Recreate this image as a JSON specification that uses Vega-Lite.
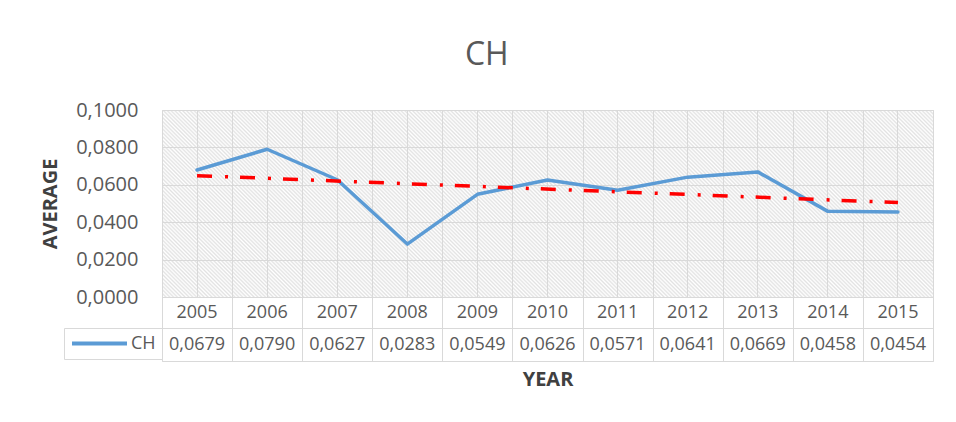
{
  "$schema": "https://vega.github.io/schema/vega-lite/v6.json",
  "padding": {"left": 40, "top": 38, "right": 0, "bottom": 0},
  "datasets": {
    "ch": [
      {"year": 2005, "value": 0.0679},
      {"year": 2006, "value": 0.0790},
      {"year": 2007, "value": 0.0627},
      {"year": 2008, "value": 0.0283},
      {"year": 2009, "value": 0.0549},
      {"year": 2010, "value": 0.0626},
      {"year": 2011, "value": 0.0571},
      {"year": 2012, "value": 0.0641},
      {"year": 2013, "value": 0.0669},
      {"year": 2014, "value": 0.0458},
      {"year": 2015, "value": 0.0454}
    ],
    "trend": [
      {"year": 2005, "trend": 0.0649},
      {"year": 2015, "trend": 0.0505}
    ]
  },
  "title": {"text": "CH", "fontSize": 32, "fontWeight": "normal", "color": "#595959", "font": "Open Sans", "anchor": "middle", "offset": 28},
  "spacing": 0,
  "bounds": "flush",
  "resolve": {"scale": {"color": "independent"}, "legend": {"color": "independent"}},
  "vconcat": [
    {
      "width": 771,
      "height": 187,
      "view": {
        "stroke": "#d9d9d9",
        "fill": {"gradient": "linear", "x1": 0, "y1": 1, "x2": 1.1735, "y2": 0.7154, "stops": [
{"offset":0.000,"color":"#e2e2e2"},{"offset":0.002,"color":"#fff"},{"offset":0.004,"color":"#e2e2e2"},{"offset":0.006,"color":"#fff"},{"offset":0.008,"color":"#e2e2e2"},{"offset":0.010,"color":"#fff"},{"offset":0.012,"color":"#e2e2e2"},{"offset":0.014,"color":"#fff"},{"offset":0.016,"color":"#e2e2e2"},{"offset":0.018,"color":"#fff"},
{"offset":0.020,"color":"#e2e2e2"},{"offset":0.022,"color":"#fff"},{"offset":0.024,"color":"#e2e2e2"},{"offset":0.026,"color":"#fff"},{"offset":0.028,"color":"#e2e2e2"},{"offset":0.030,"color":"#fff"},{"offset":0.032,"color":"#e2e2e2"},{"offset":0.034,"color":"#fff"},{"offset":0.036,"color":"#e2e2e2"},{"offset":0.038,"color":"#fff"},
{"offset":0.040,"color":"#e2e2e2"},{"offset":0.042,"color":"#fff"},{"offset":0.044,"color":"#e2e2e2"},{"offset":0.046,"color":"#fff"},{"offset":0.048,"color":"#e2e2e2"},{"offset":0.050,"color":"#fff"},{"offset":0.052,"color":"#e2e2e2"},{"offset":0.054,"color":"#fff"},{"offset":0.056,"color":"#e2e2e2"},{"offset":0.058,"color":"#fff"},
{"offset":0.060,"color":"#e2e2e2"},{"offset":0.062,"color":"#fff"},{"offset":0.064,"color":"#e2e2e2"},{"offset":0.066,"color":"#fff"},{"offset":0.068,"color":"#e2e2e2"},{"offset":0.070,"color":"#fff"},{"offset":0.072,"color":"#e2e2e2"},{"offset":0.074,"color":"#fff"},{"offset":0.076,"color":"#e2e2e2"},{"offset":0.078,"color":"#fff"},
{"offset":0.080,"color":"#e2e2e2"},{"offset":0.082,"color":"#fff"},{"offset":0.084,"color":"#e2e2e2"},{"offset":0.086,"color":"#fff"},{"offset":0.088,"color":"#e2e2e2"},{"offset":0.090,"color":"#fff"},{"offset":0.092,"color":"#e2e2e2"},{"offset":0.094,"color":"#fff"},{"offset":0.096,"color":"#e2e2e2"},{"offset":0.098,"color":"#fff"},
{"offset":0.100,"color":"#e2e2e2"},{"offset":0.102,"color":"#fff"},{"offset":0.104,"color":"#e2e2e2"},{"offset":0.106,"color":"#fff"},{"offset":0.108,"color":"#e2e2e2"},{"offset":0.110,"color":"#fff"},{"offset":0.112,"color":"#e2e2e2"},{"offset":0.114,"color":"#fff"},{"offset":0.116,"color":"#e2e2e2"},{"offset":0.118,"color":"#fff"},
{"offset":0.120,"color":"#e2e2e2"},{"offset":0.122,"color":"#fff"},{"offset":0.124,"color":"#e2e2e2"},{"offset":0.126,"color":"#fff"},{"offset":0.128,"color":"#e2e2e2"},{"offset":0.130,"color":"#fff"},{"offset":0.132,"color":"#e2e2e2"},{"offset":0.134,"color":"#fff"},{"offset":0.136,"color":"#e2e2e2"},{"offset":0.138,"color":"#fff"},
{"offset":0.140,"color":"#e2e2e2"},{"offset":0.142,"color":"#fff"},{"offset":0.144,"color":"#e2e2e2"},{"offset":0.146,"color":"#fff"},{"offset":0.148,"color":"#e2e2e2"},{"offset":0.150,"color":"#fff"},{"offset":0.152,"color":"#e2e2e2"},{"offset":0.154,"color":"#fff"},{"offset":0.156,"color":"#e2e2e2"},{"offset":0.158,"color":"#fff"},
{"offset":0.160,"color":"#e2e2e2"},{"offset":0.162,"color":"#fff"},{"offset":0.164,"color":"#e2e2e2"},{"offset":0.166,"color":"#fff"},{"offset":0.168,"color":"#e2e2e2"},{"offset":0.170,"color":"#fff"},{"offset":0.172,"color":"#e2e2e2"},{"offset":0.174,"color":"#fff"},{"offset":0.176,"color":"#e2e2e2"},{"offset":0.178,"color":"#fff"},
{"offset":0.180,"color":"#e2e2e2"},{"offset":0.182,"color":"#fff"},{"offset":0.184,"color":"#e2e2e2"},{"offset":0.186,"color":"#fff"},{"offset":0.188,"color":"#e2e2e2"},{"offset":0.190,"color":"#fff"},{"offset":0.192,"color":"#e2e2e2"},{"offset":0.194,"color":"#fff"},{"offset":0.196,"color":"#e2e2e2"},{"offset":0.198,"color":"#fff"},
{"offset":0.200,"color":"#e2e2e2"},{"offset":0.202,"color":"#fff"},{"offset":0.204,"color":"#e2e2e2"},{"offset":0.206,"color":"#fff"},{"offset":0.208,"color":"#e2e2e2"},{"offset":0.210,"color":"#fff"},{"offset":0.212,"color":"#e2e2e2"},{"offset":0.214,"color":"#fff"},{"offset":0.216,"color":"#e2e2e2"},{"offset":0.218,"color":"#fff"},
{"offset":0.220,"color":"#e2e2e2"},{"offset":0.222,"color":"#fff"},{"offset":0.224,"color":"#e2e2e2"},{"offset":0.226,"color":"#fff"},{"offset":0.228,"color":"#e2e2e2"},{"offset":0.230,"color":"#fff"},{"offset":0.232,"color":"#e2e2e2"},{"offset":0.234,"color":"#fff"},{"offset":0.236,"color":"#e2e2e2"},{"offset":0.238,"color":"#fff"},
{"offset":0.240,"color":"#e2e2e2"},{"offset":0.242,"color":"#fff"},{"offset":0.244,"color":"#e2e2e2"},{"offset":0.246,"color":"#fff"},{"offset":0.248,"color":"#e2e2e2"},{"offset":0.250,"color":"#fff"},{"offset":0.252,"color":"#e2e2e2"},{"offset":0.254,"color":"#fff"},{"offset":0.256,"color":"#e2e2e2"},{"offset":0.258,"color":"#fff"},
{"offset":0.260,"color":"#e2e2e2"},{"offset":0.262,"color":"#fff"},{"offset":0.264,"color":"#e2e2e2"},{"offset":0.266,"color":"#fff"},{"offset":0.268,"color":"#e2e2e2"},{"offset":0.270,"color":"#fff"},{"offset":0.272,"color":"#e2e2e2"},{"offset":0.274,"color":"#fff"},{"offset":0.276,"color":"#e2e2e2"},{"offset":0.278,"color":"#fff"},
{"offset":0.280,"color":"#e2e2e2"},{"offset":0.282,"color":"#fff"},{"offset":0.284,"color":"#e2e2e2"},{"offset":0.286,"color":"#fff"},{"offset":0.288,"color":"#e2e2e2"},{"offset":0.290,"color":"#fff"},{"offset":0.292,"color":"#e2e2e2"},{"offset":0.294,"color":"#fff"},{"offset":0.296,"color":"#e2e2e2"},{"offset":0.298,"color":"#fff"},
{"offset":0.300,"color":"#e2e2e2"},{"offset":0.302,"color":"#fff"},{"offset":0.304,"color":"#e2e2e2"},{"offset":0.306,"color":"#fff"},{"offset":0.308,"color":"#e2e2e2"},{"offset":0.310,"color":"#fff"},{"offset":0.312,"color":"#e2e2e2"},{"offset":0.314,"color":"#fff"},{"offset":0.316,"color":"#e2e2e2"},{"offset":0.318,"color":"#fff"},
{"offset":0.320,"color":"#e2e2e2"},{"offset":0.322,"color":"#fff"},{"offset":0.324,"color":"#e2e2e2"},{"offset":0.326,"color":"#fff"},{"offset":0.328,"color":"#e2e2e2"},{"offset":0.330,"color":"#fff"},{"offset":0.332,"color":"#e2e2e2"},{"offset":0.334,"color":"#fff"},{"offset":0.336,"color":"#e2e2e2"},{"offset":0.338,"color":"#fff"},
{"offset":0.340,"color":"#e2e2e2"},{"offset":0.342,"color":"#fff"},{"offset":0.344,"color":"#e2e2e2"},{"offset":0.346,"color":"#fff"},{"offset":0.348,"color":"#e2e2e2"},{"offset":0.350,"color":"#fff"},{"offset":0.352,"color":"#e2e2e2"},{"offset":0.354,"color":"#fff"},{"offset":0.356,"color":"#e2e2e2"},{"offset":0.358,"color":"#fff"},
{"offset":0.360,"color":"#e2e2e2"},{"offset":0.362,"color":"#fff"},{"offset":0.364,"color":"#e2e2e2"},{"offset":0.366,"color":"#fff"},{"offset":0.368,"color":"#e2e2e2"},{"offset":0.370,"color":"#fff"},{"offset":0.372,"color":"#e2e2e2"},{"offset":0.374,"color":"#fff"},{"offset":0.376,"color":"#e2e2e2"},{"offset":0.378,"color":"#fff"},
{"offset":0.380,"color":"#e2e2e2"},{"offset":0.382,"color":"#fff"},{"offset":0.384,"color":"#e2e2e2"},{"offset":0.386,"color":"#fff"},{"offset":0.388,"color":"#e2e2e2"},{"offset":0.390,"color":"#fff"},{"offset":0.392,"color":"#e2e2e2"},{"offset":0.394,"color":"#fff"},{"offset":0.396,"color":"#e2e2e2"},{"offset":0.398,"color":"#fff"},
{"offset":0.400,"color":"#e2e2e2"},{"offset":0.402,"color":"#fff"},{"offset":0.404,"color":"#e2e2e2"},{"offset":0.406,"color":"#fff"},{"offset":0.408,"color":"#e2e2e2"},{"offset":0.410,"color":"#fff"},{"offset":0.412,"color":"#e2e2e2"},{"offset":0.414,"color":"#fff"},{"offset":0.416,"color":"#e2e2e2"},{"offset":0.418,"color":"#fff"},
{"offset":0.420,"color":"#e2e2e2"},{"offset":0.422,"color":"#fff"},{"offset":0.424,"color":"#e2e2e2"},{"offset":0.426,"color":"#fff"},{"offset":0.428,"color":"#e2e2e2"},{"offset":0.430,"color":"#fff"},{"offset":0.432,"color":"#e2e2e2"},{"offset":0.434,"color":"#fff"},{"offset":0.436,"color":"#e2e2e2"},{"offset":0.438,"color":"#fff"},
{"offset":0.440,"color":"#e2e2e2"},{"offset":0.442,"color":"#fff"},{"offset":0.444,"color":"#e2e2e2"},{"offset":0.446,"color":"#fff"},{"offset":0.448,"color":"#e2e2e2"},{"offset":0.450,"color":"#fff"},{"offset":0.452,"color":"#e2e2e2"},{"offset":0.454,"color":"#fff"},{"offset":0.456,"color":"#e2e2e2"},{"offset":0.458,"color":"#fff"},
{"offset":0.460,"color":"#e2e2e2"},{"offset":0.462,"color":"#fff"},{"offset":0.464,"color":"#e2e2e2"},{"offset":0.466,"color":"#fff"},{"offset":0.468,"color":"#e2e2e2"},{"offset":0.470,"color":"#fff"},{"offset":0.472,"color":"#e2e2e2"},{"offset":0.474,"color":"#fff"},{"offset":0.476,"color":"#e2e2e2"},{"offset":0.478,"color":"#fff"},
{"offset":0.480,"color":"#e2e2e2"},{"offset":0.482,"color":"#fff"},{"offset":0.484,"color":"#e2e2e2"},{"offset":0.486,"color":"#fff"},{"offset":0.488,"color":"#e2e2e2"},{"offset":0.490,"color":"#fff"},{"offset":0.492,"color":"#e2e2e2"},{"offset":0.494,"color":"#fff"},{"offset":0.496,"color":"#e2e2e2"},{"offset":0.498,"color":"#fff"},
{"offset":0.500,"color":"#e2e2e2"},{"offset":0.502,"color":"#fff"},{"offset":0.504,"color":"#e2e2e2"},{"offset":0.506,"color":"#fff"},{"offset":0.508,"color":"#e2e2e2"},{"offset":0.510,"color":"#fff"},{"offset":0.512,"color":"#e2e2e2"},{"offset":0.514,"color":"#fff"},{"offset":0.516,"color":"#e2e2e2"},{"offset":0.518,"color":"#fff"},
{"offset":0.520,"color":"#e2e2e2"},{"offset":0.522,"color":"#fff"},{"offset":0.524,"color":"#e2e2e2"},{"offset":0.526,"color":"#fff"},{"offset":0.528,"color":"#e2e2e2"},{"offset":0.530,"color":"#fff"},{"offset":0.532,"color":"#e2e2e2"},{"offset":0.534,"color":"#fff"},{"offset":0.536,"color":"#e2e2e2"},{"offset":0.538,"color":"#fff"},
{"offset":0.540,"color":"#e2e2e2"},{"offset":0.542,"color":"#fff"},{"offset":0.544,"color":"#e2e2e2"},{"offset":0.546,"color":"#fff"},{"offset":0.548,"color":"#e2e2e2"},{"offset":0.550,"color":"#fff"},{"offset":0.552,"color":"#e2e2e2"},{"offset":0.554,"color":"#fff"},{"offset":0.556,"color":"#e2e2e2"},{"offset":0.558,"color":"#fff"},
{"offset":0.560,"color":"#e2e2e2"},{"offset":0.562,"color":"#fff"},{"offset":0.564,"color":"#e2e2e2"},{"offset":0.566,"color":"#fff"},{"offset":0.568,"color":"#e2e2e2"},{"offset":0.570,"color":"#fff"},{"offset":0.572,"color":"#e2e2e2"},{"offset":0.574,"color":"#fff"},{"offset":0.576,"color":"#e2e2e2"},{"offset":0.578,"color":"#fff"},
{"offset":0.580,"color":"#e2e2e2"},{"offset":0.582,"color":"#fff"},{"offset":0.584,"color":"#e2e2e2"},{"offset":0.586,"color":"#fff"},{"offset":0.588,"color":"#e2e2e2"},{"offset":0.590,"color":"#fff"},{"offset":0.592,"color":"#e2e2e2"},{"offset":0.594,"color":"#fff"},{"offset":0.596,"color":"#e2e2e2"},{"offset":0.598,"color":"#fff"},
{"offset":0.600,"color":"#e2e2e2"},{"offset":0.602,"color":"#fff"},{"offset":0.604,"color":"#e2e2e2"},{"offset":0.606,"color":"#fff"},{"offset":0.608,"color":"#e2e2e2"},{"offset":0.610,"color":"#fff"},{"offset":0.612,"color":"#e2e2e2"},{"offset":0.614,"color":"#fff"},{"offset":0.616,"color":"#e2e2e2"},{"offset":0.618,"color":"#fff"},
{"offset":0.620,"color":"#e2e2e2"},{"offset":0.622,"color":"#fff"},{"offset":0.624,"color":"#e2e2e2"},{"offset":0.626,"color":"#fff"},{"offset":0.628,"color":"#e2e2e2"},{"offset":0.630,"color":"#fff"},{"offset":0.632,"color":"#e2e2e2"},{"offset":0.634,"color":"#fff"},{"offset":0.636,"color":"#e2e2e2"},{"offset":0.638,"color":"#fff"},
{"offset":0.640,"color":"#e2e2e2"},{"offset":0.642,"color":"#fff"},{"offset":0.644,"color":"#e2e2e2"},{"offset":0.646,"color":"#fff"},{"offset":0.648,"color":"#e2e2e2"},{"offset":0.650,"color":"#fff"},{"offset":0.652,"color":"#e2e2e2"},{"offset":0.654,"color":"#fff"},{"offset":0.656,"color":"#e2e2e2"},{"offset":0.658,"color":"#fff"},
{"offset":0.660,"color":"#e2e2e2"},{"offset":0.662,"color":"#fff"},{"offset":0.664,"color":"#e2e2e2"},{"offset":0.666,"color":"#fff"},{"offset":0.668,"color":"#e2e2e2"},{"offset":0.670,"color":"#fff"},{"offset":0.672,"color":"#e2e2e2"},{"offset":0.674,"color":"#fff"},{"offset":0.676,"color":"#e2e2e2"},{"offset":0.678,"color":"#fff"},
{"offset":0.680,"color":"#e2e2e2"},{"offset":0.682,"color":"#fff"},{"offset":0.684,"color":"#e2e2e2"},{"offset":0.686,"color":"#fff"},{"offset":0.688,"color":"#e2e2e2"},{"offset":0.690,"color":"#fff"},{"offset":0.692,"color":"#e2e2e2"},{"offset":0.694,"color":"#fff"},{"offset":0.696,"color":"#e2e2e2"},{"offset":0.698,"color":"#fff"},
{"offset":0.700,"color":"#e2e2e2"},{"offset":0.702,"color":"#fff"},{"offset":0.704,"color":"#e2e2e2"},{"offset":0.706,"color":"#fff"},{"offset":0.708,"color":"#e2e2e2"},{"offset":0.710,"color":"#fff"},{"offset":0.712,"color":"#e2e2e2"},{"offset":0.714,"color":"#fff"},{"offset":0.716,"color":"#e2e2e2"},{"offset":0.718,"color":"#fff"},
{"offset":0.720,"color":"#e2e2e2"},{"offset":0.722,"color":"#fff"},{"offset":0.724,"color":"#e2e2e2"},{"offset":0.726,"color":"#fff"},{"offset":0.728,"color":"#e2e2e2"},{"offset":0.730,"color":"#fff"},{"offset":0.732,"color":"#e2e2e2"},{"offset":0.734,"color":"#fff"},{"offset":0.736,"color":"#e2e2e2"},{"offset":0.738,"color":"#fff"},
{"offset":0.740,"color":"#e2e2e2"},{"offset":0.742,"color":"#fff"},{"offset":0.744,"color":"#e2e2e2"},{"offset":0.746,"color":"#fff"},{"offset":0.748,"color":"#e2e2e2"},{"offset":0.750,"color":"#fff"},{"offset":0.752,"color":"#e2e2e2"},{"offset":0.754,"color":"#fff"},{"offset":0.756,"color":"#e2e2e2"},{"offset":0.758,"color":"#fff"},
{"offset":0.760,"color":"#e2e2e2"},{"offset":0.762,"color":"#fff"},{"offset":0.764,"color":"#e2e2e2"},{"offset":0.766,"color":"#fff"},{"offset":0.768,"color":"#e2e2e2"},{"offset":0.770,"color":"#fff"},{"offset":0.772,"color":"#e2e2e2"},{"offset":0.774,"color":"#fff"},{"offset":0.776,"color":"#e2e2e2"},{"offset":0.778,"color":"#fff"},
{"offset":0.780,"color":"#e2e2e2"},{"offset":0.782,"color":"#fff"},{"offset":0.784,"color":"#e2e2e2"},{"offset":0.786,"color":"#fff"},{"offset":0.788,"color":"#e2e2e2"},{"offset":0.790,"color":"#fff"},{"offset":0.792,"color":"#e2e2e2"},{"offset":0.794,"color":"#fff"},{"offset":0.796,"color":"#e2e2e2"},{"offset":0.798,"color":"#fff"},
{"offset":0.800,"color":"#e2e2e2"},{"offset":0.802,"color":"#fff"},{"offset":0.804,"color":"#e2e2e2"},{"offset":0.806,"color":"#fff"},{"offset":0.808,"color":"#e2e2e2"},{"offset":0.810,"color":"#fff"},{"offset":0.812,"color":"#e2e2e2"},{"offset":0.814,"color":"#fff"},{"offset":0.816,"color":"#e2e2e2"},{"offset":0.818,"color":"#fff"},
{"offset":0.820,"color":"#e2e2e2"},{"offset":0.822,"color":"#fff"},{"offset":0.824,"color":"#e2e2e2"},{"offset":0.826,"color":"#fff"},{"offset":0.828,"color":"#e2e2e2"},{"offset":0.830,"color":"#fff"},{"offset":0.832,"color":"#e2e2e2"},{"offset":0.834,"color":"#fff"},{"offset":0.836,"color":"#e2e2e2"},{"offset":0.838,"color":"#fff"},
{"offset":0.840,"color":"#e2e2e2"},{"offset":0.842,"color":"#fff"},{"offset":0.844,"color":"#e2e2e2"},{"offset":0.846,"color":"#fff"},{"offset":0.848,"color":"#e2e2e2"},{"offset":0.850,"color":"#fff"},{"offset":0.852,"color":"#e2e2e2"},{"offset":0.854,"color":"#fff"},{"offset":0.856,"color":"#e2e2e2"},{"offset":0.858,"color":"#fff"},
{"offset":0.860,"color":"#e2e2e2"},{"offset":0.862,"color":"#fff"},{"offset":0.864,"color":"#e2e2e2"},{"offset":0.866,"color":"#fff"},{"offset":0.868,"color":"#e2e2e2"},{"offset":0.870,"color":"#fff"},{"offset":0.872,"color":"#e2e2e2"},{"offset":0.874,"color":"#fff"},{"offset":0.876,"color":"#e2e2e2"},{"offset":0.878,"color":"#fff"},
{"offset":0.880,"color":"#e2e2e2"},{"offset":0.882,"color":"#fff"},{"offset":0.884,"color":"#e2e2e2"},{"offset":0.886,"color":"#fff"},{"offset":0.888,"color":"#e2e2e2"},{"offset":0.890,"color":"#fff"},{"offset":0.892,"color":"#e2e2e2"},{"offset":0.894,"color":"#fff"},{"offset":0.896,"color":"#e2e2e2"},{"offset":0.898,"color":"#fff"},
{"offset":0.900,"color":"#e2e2e2"},{"offset":0.902,"color":"#fff"},{"offset":0.904,"color":"#e2e2e2"},{"offset":0.906,"color":"#fff"},{"offset":0.908,"color":"#e2e2e2"},{"offset":0.910,"color":"#fff"},{"offset":0.912,"color":"#e2e2e2"},{"offset":0.914,"color":"#fff"},{"offset":0.916,"color":"#e2e2e2"},{"offset":0.918,"color":"#fff"},
{"offset":0.920,"color":"#e2e2e2"},{"offset":0.922,"color":"#fff"},{"offset":0.924,"color":"#e2e2e2"},{"offset":0.926,"color":"#fff"},{"offset":0.928,"color":"#e2e2e2"},{"offset":0.930,"color":"#fff"},{"offset":0.932,"color":"#e2e2e2"},{"offset":0.934,"color":"#fff"},{"offset":0.936,"color":"#e2e2e2"},{"offset":0.938,"color":"#fff"},
{"offset":0.940,"color":"#e2e2e2"},{"offset":0.942,"color":"#fff"},{"offset":0.944,"color":"#e2e2e2"},{"offset":0.946,"color":"#fff"},{"offset":0.948,"color":"#e2e2e2"},{"offset":0.950,"color":"#fff"},{"offset":0.952,"color":"#e2e2e2"},{"offset":0.954,"color":"#fff"},{"offset":0.956,"color":"#e2e2e2"},{"offset":0.958,"color":"#fff"},
{"offset":0.960,"color":"#e2e2e2"},{"offset":0.962,"color":"#fff"},{"offset":0.964,"color":"#e2e2e2"},{"offset":0.966,"color":"#fff"},{"offset":0.968,"color":"#e2e2e2"},{"offset":0.970,"color":"#fff"},{"offset":0.972,"color":"#e2e2e2"},{"offset":0.974,"color":"#fff"},{"offset":0.976,"color":"#e2e2e2"},{"offset":0.978,"color":"#fff"},
{"offset":0.980,"color":"#e2e2e2"},{"offset":0.982,"color":"#fff"},{"offset":0.984,"color":"#e2e2e2"},{"offset":0.986,"color":"#fff"},{"offset":0.988,"color":"#e2e2e2"},{"offset":0.990,"color":"#fff"},{"offset":0.992,"color":"#e2e2e2"},{"offset":0.994,"color":"#fff"},{"offset":0.996,"color":"#e2e2e2"},{"offset":0.998,"color":"#fff"},
{"offset":1.000,"color":"#e2e2e2"}
        ]}
      },
      "layer": [
        {
          "data": {"name": "ch"},
          "mark": {"type": "line", "color": "#5b9bd5", "strokeWidth": 3.5, "strokeJoin": "round", "strokeCap": "round"},
          "encoding": {
            "x": {
              "field": "year", "type": "ordinal",
              "scale": {"type": "band", "domain": [2005, 2006, 2007, 2008, 2009, 2010, 2011, 2012, 2013, 2014, 2015], "paddingInner": 0, "paddingOuter": 0},
              "axis": {"grid": true, "tickBand": "center", "gridColor": "#d9d9d9", "gridWidth": 1, "labels": false, "ticks": false, "tickSize": 0, "labelPadding": 0, "minExtent": 0, "maxExtent": 0, "domain": false, "title": null}
            },
            "y": {
              "field": "value", "type": "quantitative",
              "scale": {"domain": [0, 0.1], "nice": false, "zero": true},
              "axis": {
                "values": [0, 0.02, 0.04, 0.06, 0.08, 0.1], "tickCount": 12, "format": ".4f", "labelOverlap": false,
                "grid": true, "gridColor": "#d9d9d9", "gridWidth": 1,
                "ticks": false, "tickSize": 0, "domain": false,
                "labelFontSize": 20, "labelColor": "#595959", "labelFont": "Open Sans", "labelPadding": 24,
                "title": "AVERAGE", "titleFontSize": 20, "titleFontWeight": "bold", "titleColor": "#404040", "titleFont": "Open Sans", "titlePadding": 15
              }
            }
          }
        },
        {
          "data": {"name": "trend"},
          "mark": {"type": "line", "color": "#ff0000", "strokeWidth": 3.5, "strokeDash": [15, 13, 3, 12]},
          "encoding": {
            "x": {
              "field": "year", "type": "ordinal",
              "axis": {"orient": "top", "grid": true, "tickBand": "extent", "gridColor": "#d9d9d9", "gridWidth": 1, "labels": false, "ticks": false, "tickSize": 0, "labelPadding": 0, "minExtent": 0, "maxExtent": 0, "domain": false, "title": null}
            },
            "y": {"field": "trend", "type": "quantitative"}
          }
        }
      ],
      "resolve": {"axis": {"x": "independent"}}
    },
    {
      "data": {"name": "ch"},
      "width": 771,
      "height": 31,
      "view": {"stroke": "#d9d9d9"},
      "mark": {"type": "text", "fontSize": 18, "color": "#595959", "font": "Open Sans"},
      "encoding": {
        "x": {
          "field": "year", "type": "ordinal",
          "scale": {"type": "band", "paddingInner": 0, "paddingOuter": 0},
          "axis": {"grid": true, "tickBand": "extent", "gridColor": "#d9d9d9", "gridWidth": 1, "labels": false, "ticks": false, "tickSize": 0, "labelPadding": 0, "minExtent": 0, "maxExtent": 0, "domain": false, "title": null}
        },
        "text": {"field": "year", "type": "ordinal"}
      }
    },
    {
      "data": {"name": "ch"},
      "width": 771,
      "height": 33,
      "view": {"stroke": "#d9d9d9"},
      "mark": {"type": "text", "fontSize": 18, "font": "Open Sans"},
      "encoding": {
        "x": {
          "field": "year", "type": "ordinal",
          "scale": {"type": "band", "paddingInner": 0, "paddingOuter": 0},
          "axis": {"grid": true, "tickBand": "extent", "gridColor": "#d9d9d9", "gridWidth": 1, "labels": false, "ticks": false, "tickSize": 0, "labelPadding": 0, "domain": false,
                   "title": "YEAR", "titleFontSize": 20, "titleFontWeight": "bold", "titleColor": "#404040", "titleFont": "Open Sans", "titlePadding": 8}
        },
        "text": {"field": "value", "type": "quantitative", "format": ".4f"},
        "color": {
          "datum": "CH", "type": "nominal",
          "scale": {"range": ["#595959"]},
          "legend": {
            "orient": "left", "offset": 0, "title": null,
            "symbolType": "stroke", "symbolStrokeColor": "#5b9bd5", "symbolStrokeWidth": 4, "symbolSize": 3025,
            "clipHeight": 19,
            "labelFontSize": 18, "labelColor": "#595959", "labelFont": "Open Sans", "labelOffset": 2,
            "padding": 6, "strokeColor": "#d9d9d9"
          }
        }
      }
    }
  ],
  "config": {
    "locale": {"number": {"decimal": ",", "thousands": ".", "grouping": [3], "currency": ["", " €"]}},
    "font": "Open Sans",
    "view": {"stroke": null},
    "axisY": {"labelOverlap": false},
    "background": "white"
  }
}
